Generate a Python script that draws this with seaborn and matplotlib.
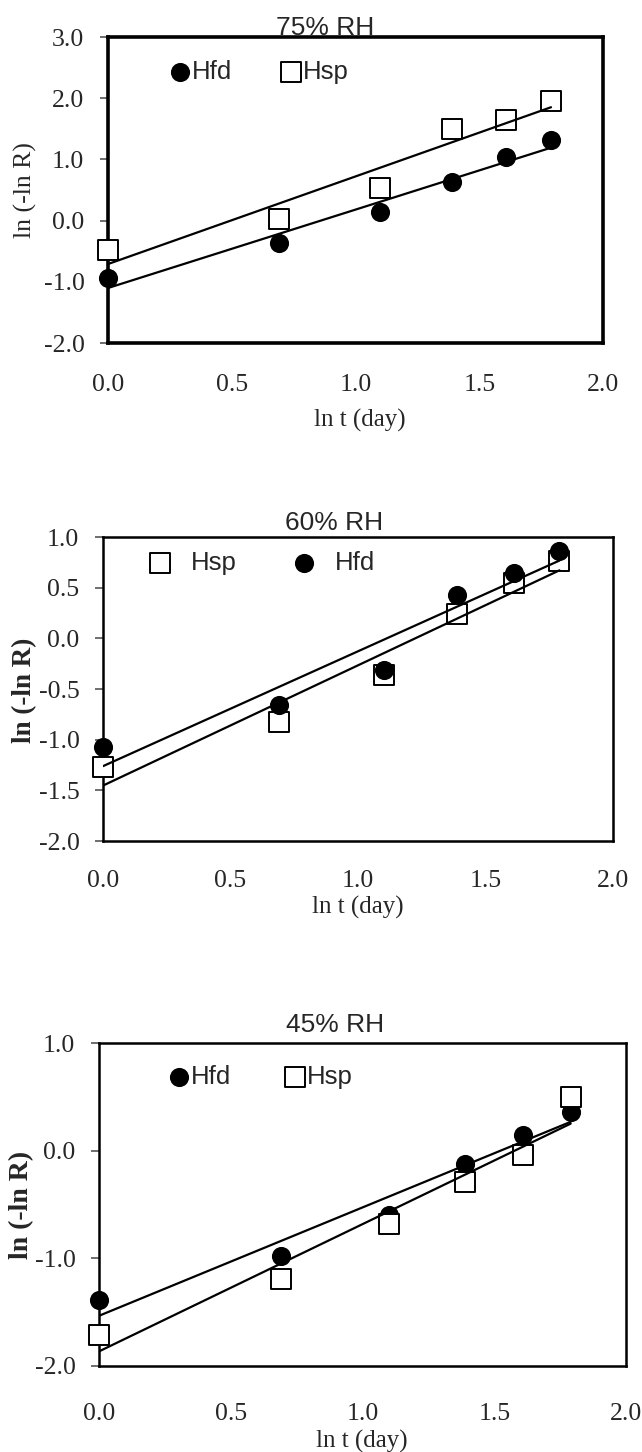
import matplotlib
matplotlib.use("Agg")
import matplotlib.pyplot as plt
from matplotlib.ticker import FormatStrFormatter, MultipleLocator
import pandas as pd
import seaborn as sns

# ln t (day) for t = 1..6 days
ln_t = [0.00, 0.69, 1.10, 1.39, 1.61, 1.79]

# ln(-ln R)
rh75_hfd = [-0.94, -0.37, 0.14, 0.63, 1.04, 1.32]
rh75_hsp = [-0.48, 0.03, 0.53, 1.49, 1.64, 1.95]
rh60_hfd = [-1.07, -0.66, -0.31, 0.43, 0.64, 0.86]
rh60_hsp = [-1.27, -0.83, -0.36, 0.24, 0.55, 0.76]
rh45_hfd = [-1.39, -0.98, -0.60, -0.12, 0.15, 0.36]
rh45_hsp = [-1.71, -1.19, -0.68, -0.29, -0.04, 0.50]

titles = ["75% RH", "60% RH", "45% RH"]

sns.set_style("ticks")
plt.rcParams["font.family"] = ["Liberation Serif", "DejaVu Serif"]
plt.rcParams["axes.unicode_minus"] = False

SANS = ["Liberation Sans", "DejaVu Sans"]

STYLE = {
    "Hfd": dict(marker="o", scatter_kws=dict(s=190, color="black", alpha=1, linewidths=0,
                                             clip_on=False, zorder=4)),
    "Hsp": dict(marker="s", scatter_kws=dict(s=210, facecolors="white", edgecolors="black",
                                             alpha=1, linewidths=1.4, clip_on=False, zorder=4)),
}

fig = plt.figure(figsize=(6.42, 14.52), dpi=100)

# pixel boxes of the three plot areas (left, top, right, bottom)
boxes = [(108, 37, 603, 343), (103, 537, 613, 841), (99, 1043, 626, 1366)]


def make_axes(box):
    l, t, r, b = box
    return fig.add_axes([l / 642, 1 - b / 1452, (r - l) / 642, (b - t) / 1452])


def draw_panel(ax, series, title, ylim, ystep, spine_w, title_xy, xlab_xy, ylab_xy,
               ylab_weight, ylab_size, leg_xy, leg_pad, leg_space, xpad):
    for name, vals in series:
        df = pd.DataFrame({"x": ln_t, "y": vals})
        st = STYLE[name]
        sns.regplot(data=df, x="x", y="y", ax=ax, ci=None, truncate=True,
                    marker=st["marker"], color="black", label=name,
                    scatter_kws=dict(st["scatter_kws"]),
                    line_kws=dict(color="black", lw=1.6, zorder=5))
    ax.set_xlim(0, 2)
    ax.set_ylim(*ylim)
    ax.xaxis.set_major_locator(MultipleLocator(0.5))
    ax.yaxis.set_major_locator(MultipleLocator(ystep))
    ax.xaxis.set_major_formatter(FormatStrFormatter("%.1f"))
    ax.yaxis.set_major_formatter(FormatStrFormatter("%.1f"))
    ax.tick_params(axis="x", length=0, pad=xpad, labelsize=18.5)
    ax.tick_params(axis="y", length=6, width=1.2, color="#555555", pad=11, labelsize=18.5,
                   direction="out")
    for sp in ax.spines.values():
        sp.set_visible(True)
        sp.set_linewidth(spine_w)
        sp.set_color("black")
        sp.set_zorder(3)

    ax.set_title(title, x=title_xy[0], y=title_xy[1], va="center", pad=0,
                 fontsize=19, family=SANS)
    ax.set_xlabel("ln t (day)", fontsize=18, va="center")
    ax.xaxis.set_label_coords(*xlab_xy)
    ax.set_ylabel("ln (-ln R)", fontsize=ylab_size, fontweight=ylab_weight, va="center")
    ax.yaxis.set_label_coords(*ylab_xy)

    ax.legend(loc="center left", bbox_to_anchor=leg_xy, ncol=2, frameon=False,
              borderpad=0, borderaxespad=0, handlelength=0.8, handletextpad=leg_pad,
              columnspacing=leg_space, scatterpoints=1, prop=dict(family=SANS, size=18.5))


ax1 = make_axes(boxes[0])
draw_panel(ax1, [("Hfd", rh75_hfd), ("Hsp", rh75_hsp)], titles[0], (-2, 3), 1.0, 2.6,
           (0.438, 1.029), (0.509, -0.252), (-0.166, 0.5), "normal", 18.5,
           (0.125, 0.886), 0.05, 1.9, 22)

ax2 = make_axes(boxes[1])
draw_panel(ax2, [("Hsp", rh60_hsp), ("Hfd", rh60_hfd)], titles[1], (-2, 1), 0.5, 1.8,
           (0.453, 1.046), (0.5, -0.220), (-0.154, 0.497), "bold", 19.5,
           (0.092, 0.914), 0.8, 2.2, 21)

ax3 = make_axes(boxes[2])
draw_panel(ax3, [("Hfd", rh45_hfd), ("Hsp", rh45_hsp)], titles[2], (-2, 1), 1.0, 1.8,
           (0.448, 1.056), (0.499, -0.235), (-0.146, 0.5), "bold", 20,
           (0.133, 0.895), 0.05, 2.1, 27)

fig.savefig("out.png", dpi=100, facecolor="white")
